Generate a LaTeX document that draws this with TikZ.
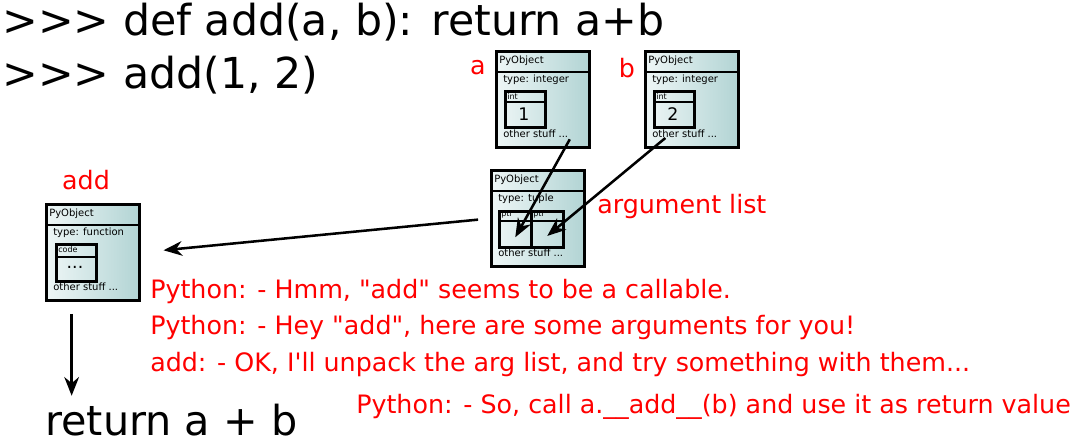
\documentclass[tikz,border=0pt]{standalone}
\usepackage{fontspec}
\setmainfont{DejaVu Sans}[Ligatures=TeXOff]
\usetikzlibrary{arrows.meta}
\definecolor{objleft}{RGB}{238,246,246}
\definecolor{objright}{RGB}{178,212,212}
\tikzset{
  objbox/.style={draw, line width=2.2pt, left color=objleft, right color=objright,
                 minimum width=69.75pt, minimum height=72pt, inner sep=0pt, anchor=north west},
  cellbox/.style={draw, line width=1.9pt, inner sep=0pt, anchor=north west},
  tinytext/.style={font=\fontsize{7.5}{8}\selectfont, inner sep=0pt, anchor=west},
  ptrtext/.style={font=\fontsize{6}{7}\selectfont, inner sep=0pt, anchor=west},
  valtext/.style={font=\fontsize{13}{15}\selectfont, inner sep=0pt},
  bigtext/.style={font=\fontsize{32}{38}\selectfont, inner sep=0pt, anchor=west},
  saytext/.style={font=\fontsize{19}{23}\selectfont, text=red, inner sep=0pt},
  ptrarrow/.style={-{Stealth[length=14pt, width=11pt]}, line width=1.9pt}
}
% one PyObject box: name, x, y (top left, px), type
\newcommand{\pyobj}[4]{%
  \node[objbox] (#1) at (#2,#3) {};
  \draw[line width=1.9pt] (#2,#3+22) -- (#2+93,#3+22);
  \node[tinytext] (#1-head) at (#2+4,#3+11) {PyObject};
  \node[tinytext] (#1-type) at (#2+8,#3+30) {type: #4};
  \node[tinytext] (#1-rest) at (#2+8,#3+84) {other stuff ...};
}

\begin{document}
\begin{tikzpicture}[x=0.75pt, y=-0.75pt]
\useasboundingbox (0,0) rectangle (1080,446);

% Interpreter input
\node[bigtext] (def) at (2,22) {>>> def add(a, b): return a+b};
\node[bigtext] (call) at (2,75) {>>> add(1, 2)};

% Objects a and b
\pyobj{a}{495}{50}{integer}
\node[cellbox, minimum width=30pt, minimum height=27pt] (a-int) at (504,90) {};
\draw[line width=1.9pt] (504,102) -- (544,102);
\node[ptrtext] (a-intlabel) at (507,96) {int};
\node[valtext] (a-val) at (524,114) {1};
\node[saytext] (a-name) at (478,68) {a};

\pyobj{b}{644}{50}{integer}
\node[cellbox, minimum width=30pt, minimum height=27pt] (b-int) at (653,90) {};
\draw[line width=1.9pt] (653,102) -- (693,102);
\node[ptrtext] (b-intlabel) at (656,96) {int};
\node[valtext] (b-val) at (673,114) {2};
\node[saytext] (b-name) at (627,68) {b};

% Argument tuple
\pyobj{t}{490}{169}{tuple}
\node[cellbox, minimum width=24pt, minimum height=27pt] (t-left) at (498,210) {};
\node[cellbox, minimum width=24pt, minimum height=27pt] (t-right) at (530,210) {};
\draw[line width=1.9pt] (498,221) -- (562,221);
\node[ptrtext] (t-ptr1) at (501,215) {ptr};
\node[ptrtext] (t-ptr2) at (533,215) {ptr};
\node[saytext, anchor=west] (arglist) at (597,207) {argument list};

% Function object
\pyobj{add}{45}{203}{function}
\node[cellbox, minimum width=30pt, minimum height=27.75pt] (add-code) at (55,243) {};
\draw[line width=1.9pt] (55,257) -- (95,257);
\node[ptrtext] (add-codelabel) at (58,250) {code};
\node[valtext] (add-body) at (75,267) {...};
\node[saytext] (add-name) at (86,180) {add};

\node[bigtext, font=\fontsize{31}{37}\selectfont] (ret) at (45,420) {return a + b};

% Arrows
\draw[ptrarrow] ([xshift=1pt, yshift=-4pt]a-rest.east) -- ([yshift=-6pt]t-left.center);
\draw[ptrarrow] ([xshift=10pt, yshift=-3pt]b-rest.west) -- ([yshift=-5pt]t-right.center);
\draw[ptrarrow, shorten <=9pt, shorten >=17pt] (t.west) -- (add.east);
\draw[ptrarrow] ([xshift=20pt, yshift=-9pt]add.south west) -- ([xshift=20pt, yshift=6pt]ret.north west);

% Interpreter talk
\node[saytext, anchor=west] (say1) at (150,292) {Python: - Hmm, "add" seems to be a callable.};
\node[saytext, anchor=west] (say2) at (150,328) {Python: - Hey "add", here are some arguments for you!};
\node[saytext, anchor=west] (say3) at (150,365) {add: - OK, I'll unpack the arg list, and try something with them...};
\node[saytext, anchor=west] (say4) at (356,407) {Python: - So, call a.\_\_add\_\_(b) and use it as return value};

\end{tikzpicture}
\end{document}
